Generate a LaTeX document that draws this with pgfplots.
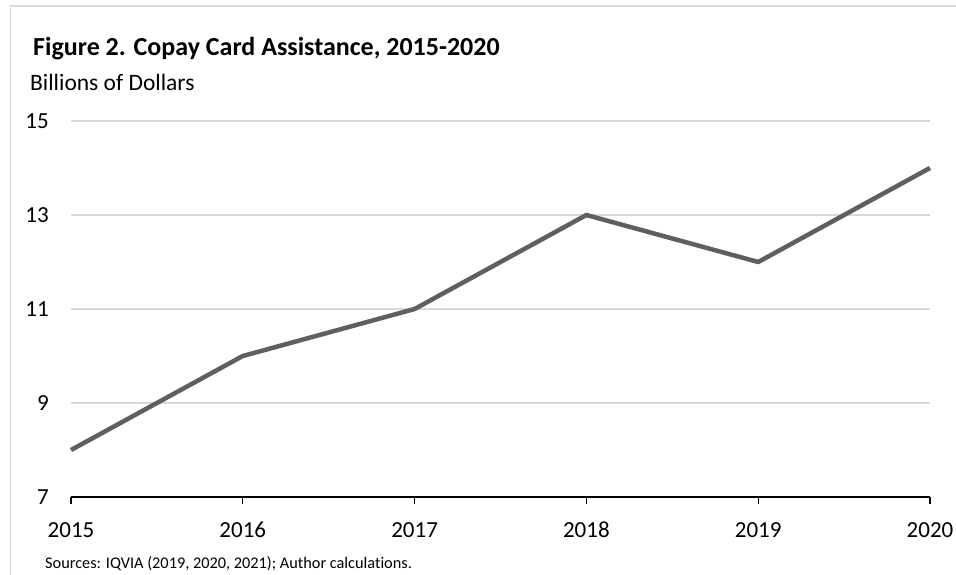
\documentclass[border=0pt]{standalone}
\usepackage{fontspec}
\setmainfont{Carlito}[Ligatures=NoCommon]
\usepackage{pgfplots}
\pgfplotsset{compat=1.18}
\definecolor{gridc}{HTML}{D9D9D9}
\definecolor{linec}{HTML}{5F5F5F}
\newcommand{\tf}{\fontsize{23}{27}\selectfont}
\begin{document}
\begin{tikzpicture}[x=1pt,y=1pt]
\useasboundingbox (0,0) rectangle (956,575);
\draw[gridc, line width=1.2pt] (10.5,0) -- (10.5,569) -- (956,569);
\node[anchor=base west, inner sep=0pt] at (33,519) {\fontsize{26}{30}\selectfont\bfseries Figure 2. Copay Card Assistance, 2015-2020};
\node[anchor=base west, inner sep=0pt] at (30,484) {\fontsize{23.5}{27}\selectfont Billions of Dollars};
\node[anchor=base west, inner sep=0pt] at (45,6) {\fontsize{16.3}{20}\selectfont Sources: IQVIA (2019, 2020, 2021); Author calculations.};
\begin{axis}[
  at={(71pt,78pt)}, anchor=south west,
  scale only axis, width=859pt, height=376pt,
  xmin=2015, xmax=2020, ymin=7, ymax=15,
  xtick={2015,2016,2017,2018,2019,2020},
  xticklabels={{\tf 2015},{\tf 2016},{\tf 2017},{\tf 2018},{\tf 2019},{\tf 2020}},
  ytick={7,9,11,13,15},
  yticklabels={{\tf 7},{\tf 9},{\tf 11},{\tf 13},{\tf 15}},
  axis x line*=bottom, axis y line*=left,
  y axis line style={draw=none},
  x axis line style={-, line width=1.3pt, black},
  ymajorgrids, grid style={gridc, line width=1.3pt},
  xtick style={black, line width=1.3pt},
  ytick style={draw=none},
  xtick align=outside, major tick length=7pt,
  xticklabel style={anchor=base, yshift=-34pt, inner sep=0pt},
  yticklabel style={anchor=base east, xshift=-22pt, yshift=-7.5pt, inner sep=0pt},
  clip=false,
]
\addplot[linec, line width=4.5pt, line join=round] coordinates {
(2015,8) (2016,10) (2017,11) (2018,13) (2019,12) (2020,14)};
\end{axis}
\end{tikzpicture}
\end{document}
